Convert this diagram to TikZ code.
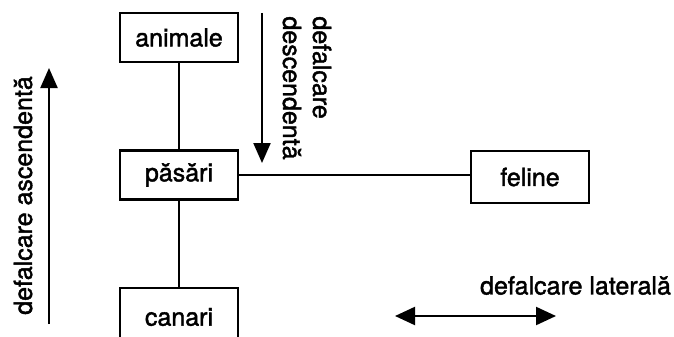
\documentclass[tikz,border=0pt]{standalone}
\usepackage{fontspec}
\setmainfont{TeX Gyre Heros}[FakeBold=1.6]
\usetikzlibrary{arrows.meta}
\begin{document}
\begin{tikzpicture}[x=1pt,y=-1pt,
  every node/.style={font=\fontsize{25}{30}\selectfont, inner sep=0pt},
  box/.style={draw, line width=2.2pt, minimum width=118pt, minimum height=49pt},
  link/.style={line width=1.7pt},
  bigarrow/.style={line width=2.2pt, -{Triangle[length=20pt,width=17pt]}},
  dblarrow/.style={line width=2.2pt, {Triangle[length=20pt,width=18pt]}-{Triangle[length=20pt,width=18pt]}}]
  \useasboundingbox (0,0) rectangle (674,337);
  \clip (0,0) rectangle (674,337);

  % hierarchy boxes
  \node[box] (animale) at (179,37.5) {animale};
  \node[box] (pasari)  at (179,175)  {păsări};
  \node[box, minimum height=56pt] (canari) at (179,316) {};
  \node at (179,317) {canari};
  \node[box, minimum height=52pt] (feline) at (530,177) {feline};

  % links between levels
  \draw[link] (animale.south) -- (pasari.north);
  \draw[link] (pasari.south) -- (canari.north);
  \draw[link] (pasari.east) -- (pasari.east -| feline.west);

  % direction arrows
  \coordinate (upA) at (49,324);
  \coordinate (upB) at (49,68);
  \draw[bigarrow] (upA) -- (upB);
  \node[rotate=90] (asc) at (23,195.5) {defalcare ascendentă};

  \coordinate (downA) at (262,13);
  \coordinate (downB) at (262,163);
  \draw[bigarrow] (downA) -- (downB);
  \node[rotate=-90, align=left] (desc) at (307,88) {defalcare\\descendentă};

  \coordinate (latA) at (395,316);
  \coordinate (latB) at (556,316);
  \draw[dblarrow] (latA) -- (latB);
  \node (lat) at (575.5,285.5) {defalcare laterală};
\end{tikzpicture}
\end{document}
